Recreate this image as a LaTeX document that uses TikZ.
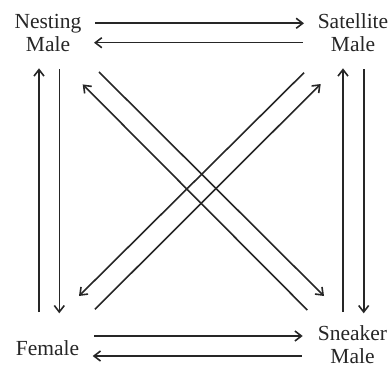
\documentclass[tikz,border=0pt]{standalone}
\usepackage{fontspec}
\setmainfont{Liberation Serif}
\usetikzlibrary{arrows.meta}
\tikzset{
  lbl/.style={anchor=base, align=center, inner sep=0pt, font=\fontsize{21.5}{23}\selectfont, text=black!85},
  conn/.style={line width=1.6pt, draw=black!85, -{Straight Barb[length=6.5pt,width=10pt,line width=1.6pt]}},
}
\begin{document}
\begin{tikzpicture}[x=1pt,y=1pt]
\useasboundingbox (0,0) rectangle (390,367);
% labels (base anchor = last line's baseline)
\node[lbl] (nest) at (48,315) {Nesting\\Male};
\node[lbl] (sat) at (353,315) {Satellite\\Male};
\node[lbl] (fem) at (47.5,12) {Female};
\node[lbl] (sneak) at (352.5,4) {Sneaker\\Male};
% endpoints
\coordinate (t1a) at (95,343.7);   \coordinate (t1b) at (304,343.7);
\coordinate (t2a) at (302.7,324.3); \coordinate (t2b) at (94,324.3);
\coordinate (b1a) at (94,31);      \coordinate (b1b) at (302.7,31);
\coordinate (b2a) at (301.7,11);   \coordinate (b2b) at (92.7,11);
\coordinate (l1a) at (39,55);      \coordinate (l1b) at (39,298.7);
\coordinate (l2a) at (59.3,297.7); \coordinate (l2b) at (59.3,53.7);
\coordinate (r1a) at (343,55);     \coordinate (r1b) at (343,298.7);
\coordinate (r2a) at (363.7,297.7);\coordinate (r2b) at (363.7,53.7);
\coordinate (d1a) at (99,295);     \coordinate (d1b) at (324,71);
\coordinate (d2a) at (307.3,57);   \coordinate (d2b) at (82.7,282.6);
\coordinate (d3a) at (304,294.3);  \coordinate (d3b) at (79,71);
\coordinate (d4a) at (95,57.7);    \coordinate (d4b) at (320.7,283);
% connectors
\draw[conn] (t1a) -- (t1b);
\draw[conn] (t2a) -- (t2b);
\draw[conn] (b1a) -- (b1b);
\draw[conn] (b2a) -- (b2b);
\draw[conn] (l1a) -- (l1b);
\draw[conn] (l2a) -- (l2b);
\draw[conn] (r1a) -- (r1b);
\draw[conn] (r2a) -- (r2b);
\draw[conn] (d1a) -- (d1b);
\draw[conn] (d2a) -- (d2b);
\draw[conn] (d3a) -- (d3b);
\draw[conn] (d4a) -- (d4b);
\end{tikzpicture}
\end{document}
